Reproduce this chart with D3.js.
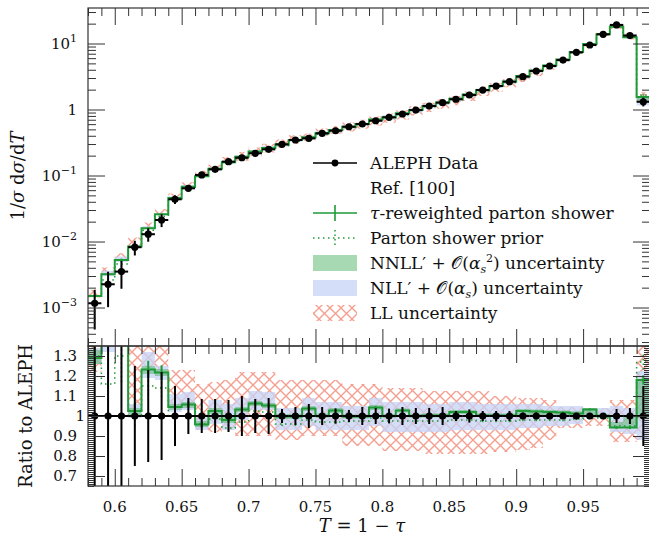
<!DOCTYPE html>
<html lang="en">
<head>
<meta charset="UTF-8">
<title>Thrust distribution compared with ALEPH</title>
<script src="https://d3js.org/d3.v7.min.js"></script>
<style>
  body { margin: 0; background: #fff; }
  svg text { font-family: "DejaVu Serif", serif; fill: #111; }
</style>
</head>
<body>
<div id="chart"></div>
<script>
// bin centres in T = 1 - tau, bins are 0.01 wide
const binCentres = [0.585, 0.595, 0.605, 0.615, 0.625, 0.635, 0.645, 0.655, 0.665, 0.675,
  0.685, 0.695, 0.705, 0.715, 0.725, 0.735, 0.745, 0.755, 0.765, 0.775,
  0.785, 0.795, 0.805, 0.815, 0.825, 0.835, 0.845, 0.855, 0.865, 0.875,
  0.885, 0.895, 0.905, 0.915, 0.925, 0.935, 0.945, 0.955, 0.965, 0.975,
  0.985, 0.995];
const binHalf = 0.005;

// ALEPH data, 1/sigma dsigma/dT, and relative errors
const alephData = [0.00116, 0.00225, 0.0035, 0.0082, 0.0129, 0.0212, 0.0436, 0.064, 0.102, 0.124,
  0.162, 0.186, 0.217, 0.249, 0.297, 0.345, 0.366, 0.436, 0.477, 0.548,
  0.603, 0.676, 0.762, 0.855, 0.98, 1.13, 1.27, 1.43, 1.66, 1.97,
  2.27, 2.64, 3.14, 3.83, 4.56, 5.62, 7.36, 9.5, 13.8, 19.1,
  13.2, 1.31];
const alephErr = [0.6, 0.55, 0.45, 0.25, 0.23, 0.22, 0.15, 0.09, 0.085, 0.085,
  0.08, 0.1, 0.085, 0.09, 0.035, 0.045, 0.06, 0.045, 0.038, 0.03,
  0.045, 0.04, 0.037, 0.045, 0.04, 0.04, 0.045, 0.025, 0.033, 0.025,
  0.025, 0.025, 0.017, 0.017, 0.013, 0.012, 0.012, 0.012, 0.012, 0.035,
  0.04, 0.15];

// tau-reweighted parton shower, ratio to ALEPH
const showerRatio = [1.29, 1.42, 1.5, 1.025, 1.233, 1.217, 1.045, 1.058, 0.958, 1.025,
  0.98, 1.033, 1.063, 1.053, 0.997, 0.997, 1.038, 1.0, 1.028, 0.997,
  0.997, 1.043, 1.0, 1.028, 1.0, 1.003, 1.003, 1.02, 1.02, 1.003,
  1.003, 1.003, 1.025, 1.022, 1.02, 1.017, 1.013, 1.033, 1.0, 0.942,
  0.942, 1.18];
const showerErr = [0.05, 0.05, 0.05, 0.04, 0.035, 0.03, 0.02, 0.015, 0.015, 0.012,
  0.012, 0.01, 0.01, 0.01, 0.008, 0.008, 0.008, 0.007, 0.007, 0.007,
  0.006, 0.006, 0.006, 0.006, 0.005, 0.005, 0.005, 0.005, 0.005, 0.005,
  0.005, 0.005, 0.005, 0.005, 0.005, 0.005, 0.005, 0.005, 0.005, 0.006,
  0.008, 0.02];

// parton shower prior, ratio to ALEPH
const priorRatio = [1.3, 1.16, 1.3, 1.0, 1.15, 1.14, 1.0, 1.0, 0.96, 0.985,
  0.94, 0.97, 1.025, 1.02, 0.96, 0.96, 0.98, 0.97, 0.97, 0.975,
  0.975, 0.99, 0.975, 0.975, 0.975, 0.975, 0.975, 0.98, 0.98, 0.975,
  0.975, 0.975, 0.98, 0.98, 0.98, 0.98, 0.985, 0.99, 0.99, 0.95,
  0.95, 1.27];
const priorErr = [0.06, 0.09, 0.1, 0.05, 0.04, 0.04, 0.03, 0.02, 0.02, 0.015,
  0.015, 0.012, 0.012, 0.012, 0.01, 0.01, 0.01, 0.008, 0.008, 0.008,
  0.007, 0.007, 0.007, 0.007, 0.006, 0.006, 0.006, 0.006, 0.006, 0.006,
  0.006, 0.006, 0.006, 0.006, 0.006, 0.006, 0.006, 0.006, 0.006, 0.008,
  0.01, 0.03];

// uncertainty bands, ratio to ALEPH (low / high edge)
const nnllLo = [1.26, 1.38, 1.46, 1.0, 1.21, 1.2, 1.03, 1.04, 0.945, 1.01,
  0.965, 1.02, 1.05, 1.04, 0.985, 0.985, 1.025, 0.99, 1.015, 0.987,
  0.987, 1.03, 0.99, 1.018, 0.99, 0.993, 0.993, 1.01, 1.01, 0.995,
  0.995, 0.995, 1.005, 1.003, 1.002, 1.0, 0.998, 1.005, 0.99, 0.94,
  0.94, 0.99];
const nnllHi = [1.33, 1.47, 1.55, 1.04, 1.25, 1.235, 1.06, 1.07, 0.975, 1.04,
  0.995, 1.045, 1.075, 1.065, 1.01, 1.01, 1.05, 1.012, 1.04, 1.008,
  1.008, 1.055, 1.01, 1.038, 1.01, 1.013, 1.013, 1.03, 1.03, 1.012,
  1.012, 1.012, 1.035, 1.032, 1.03, 1.027, 1.024, 1.04, 1.01, 0.97,
  1.0, 1.18];
const nllLo = [1.26, 1.32, 1.4, 0.99, 1.19, 1.18, 1.02, 1.03, 0.93, 0.96,
  0.93, 0.98, 1.03, 1.03, 0.93, 0.93, 0.95, 0.93, 0.93, 0.93,
  0.93, 0.95, 0.92, 0.92, 0.92, 0.92, 0.92, 0.93, 0.93, 0.93,
  0.93, 0.93, 0.94, 0.94, 0.95, 0.95, 0.96, 0.99, 0.99, 0.92,
  0.91, 0.88];
const nllHi = [1.34, 1.6, 1.7, 1.06, 1.32, 1.25, 1.11, 1.12, 1.0, 1.08,
  1.06, 1.09, 1.125, 1.12, 1.04, 1.04, 1.09, 1.07, 1.07, 1.05,
  1.05, 1.09, 1.07, 1.07, 1.07, 1.06, 1.06, 1.07, 1.07, 1.06,
  1.06, 1.06, 1.06, 1.06, 1.05, 1.05, 1.05, 1.04, 1.04, 1.05,
  1.04, 1.225];
const llLo = [1.22, 1.4, 1.45, 1.02, 1.24, 1.2, 1.04, 1.04, 0.93, 0.92,
  0.93, 0.9, 0.9, 0.9, 0.88, 0.88, 0.9, 0.9, 0.9, 0.85,
  0.85, 0.85, 0.825, 0.825, 0.825, 0.81, 0.81, 0.81, 0.81, 0.81,
  0.82, 0.82, 0.83, 0.84, 0.88, 0.94, 0.94, 0.95, 0.95, 0.87,
  0.87, 0.88];
const llHi = [1.6, 1.8, 1.9, 1.4, 1.5, 1.45, 1.23, 1.23, 1.16, 1.17,
  1.18, 1.22, 1.22, 1.22, 1.18, 1.18, 1.18, 1.18, 1.18, 1.16,
  1.16, 1.16, 1.14, 1.14, 1.14, 1.125, 1.125, 1.125, 1.125, 1.125,
  1.1, 1.1, 1.09, 1.09, 1.08, 1.045, 1.045, 1.04, 1.04, 1.08,
  1.08, 1.4];

// ticks
const xTicks = [0.6, 0.65, 0.7, 0.75, 0.8, 0.85, 0.9, 0.95];
const xTickLabels = ["0.6", "0.65", "0.7", "0.75", "0.8", "0.85", "0.9", "0.95"];
const logTicks = [1e-3, 1e-2, 1e-1, 1, 10];
const logTickExp = ["−3", "−2", "−1", "", "1"];
const ratioTicks = [0.7, 0.8, 0.9, 1, 1.1, 1.2, 1.3];
const ratioTickLabels = ["0.7", "0.8", "0.9", "1", "1.1", "1.2", "1.3"];

const width = 649, height = 536;
const left = 88, right = 650;
const top1 = 8, bot1 = 346, top2 = 346, bot2 = 486;

const green = "#1f9a37";
const tickColor = "#333";

const svg = d3.select("#chart").append("svg")
  .attr("width", width).attr("height", height);

const defs = svg.append("defs");
const pat = defs.append("pattern").attr("id", "hatch")
  .attr("patternUnits", "userSpaceOnUse").attr("width", 11).attr("height", 11);
pat.append("path").attr("d", "M0,0L11,11M11,0L0,11")
  .attr("stroke", "#f4a090").attr("stroke-width", 1.4).attr("fill", "none");

defs.append("clipPath").attr("id", "clipTop").append("rect")
  .attr("x", left).attr("y", top1).attr("width", right - left).attr("height", bot1 - top1);
defs.append("clipPath").attr("id", "clipRatio").append("rect")
  .attr("x", left).attr("y", top2).attr("width", right - left).attr("height", bot2 - top2);

const x = d3.scaleLinear().domain([0.58, 1.0]).range([left, right]);
const yTop = d3.scaleLog().domain([Math.pow(10, -3.583), Math.pow(10, 1.538)]).range([bot1, top1]);
const yRat = d3.scaleLinear().domain([0.65, 1.35]).range([bot2, top2]);

// helpers to build stepped paths from per-bin values
function bandPoints(lo, hi) {
  return binCentres.flatMap((c, i) => [
    { t: c - binHalf, lo: lo[i], hi: hi[i] },
    { t: c + binHalf, lo: lo[i], hi: hi[i] }
  ]);
}
function stepPoints(vals) {
  return binCentres.flatMap((c, i) => [
    { t: c - binHalf, v: vals[i] },
    { t: c + binHalf, v: vals[i] }
  ]);
}

function drawPanel(g, y, scaleOf) {
  // scaleOf(i, r) turns a ratio for bin i into the panel's value
  const band = (lo, hi) => d3.area()
    .x(d => x(d.t)).y0(d => y(d.lo)).y1(d => y(d.hi))(
      bandPoints(lo.map((r, i) => scaleOf(i, r)), hi.map((r, i) => scaleOf(i, r))));

  g.append("path").attr("d", band(llLo, llHi)).attr("fill", "url(#hatch)");
  g.append("path").attr("d", band(nllLo, nllHi)).attr("fill", "#c6d3f6").attr("opacity", 0.75);
  g.append("path").attr("d", band(nnllLo, nnllHi)).attr("fill", "#4fb466").attr("opacity", 0.5);

  const line = d3.line().x(d => x(d.t)).y(d => y(d.v));

  // parton shower prior (dotted)
  g.append("path").attr("d", line(stepPoints(priorRatio.map((r, i) => scaleOf(i, r)))))
    .attr("fill", "none").attr("stroke", green).attr("stroke-width", 1.5)
    .attr("stroke-dasharray", "1.5,3.5");
  g.selectAll(".priorErr").data(binCentres).join("line")
    .attr("x1", d => x(d)).attr("x2", d => x(d))
    .attr("y1", (d, i) => y(scaleOf(i, priorRatio[i] * (1 - priorErr[i]))))
    .attr("y2", (d, i) => y(scaleOf(i, priorRatio[i] * (1 + priorErr[i]))))
    .attr("stroke", green).attr("stroke-width", 1.5).attr("stroke-dasharray", "1.5,3");

  // tau-reweighted shower
  g.append("path").attr("d", line(stepPoints(showerRatio.map((r, i) => scaleOf(i, r)))))
    .attr("fill", "none").attr("stroke", green).attr("stroke-width", 2);
  g.selectAll(".showerErr").data(binCentres).join("line")
    .attr("x1", d => x(d)).attr("x2", d => x(d))
    .attr("y1", (d, i) => y(scaleOf(i, showerRatio[i] * (1 - showerErr[i]))))
    .attr("y2", (d, i) => y(scaleOf(i, showerRatio[i] * (1 + showerErr[i]))))
    .attr("stroke", green).attr("stroke-width", 2);

  // data
  g.selectAll(".dataX").data(binCentres).join("line")
    .attr("x1", d => x(d - binHalf)).attr("x2", d => x(d + binHalf))
    .attr("y1", (d, i) => y(scaleOf(i, 1))).attr("y2", (d, i) => y(scaleOf(i, 1)))
    .attr("stroke", "#000").attr("stroke-width", 2);
  g.selectAll(".dataY").data(binCentres).join("line")
    .attr("x1", d => x(d)).attr("x2", d => x(d))
    .attr("y1", (d, i) => y(scaleOf(i, 1 - alephErr[i])))
    .attr("y2", (d, i) => y(scaleOf(i, 1 + alephErr[i])))
    .attr("stroke", "#000").attr("stroke-width", 2);
  g.selectAll(".dataPt").data(binCentres).join("circle")
    .attr("cx", d => x(d)).attr("cy", (d, i) => y(scaleOf(i, 1)))
    .attr("r", 3.6).attr("fill", "#000");
}

// ---------- top panel ----------
const gTop = svg.append("g").attr("clip-path", "url(#clipTop)");
drawPanel(gTop, yTop, (i, r) => alephData[i] * r);

// ---------- ratio panel ----------
const gRat = svg.append("g").attr("clip-path", "url(#clipRatio)");
gRat.append("line").attr("x1", left).attr("x2", right)
  .attr("y1", yRat(1)).attr("y2", yRat(1))
  .attr("stroke", "#000").attr("stroke-width", 2);
drawPanel(gRat, yRat, (i, r) => r);

// ---------- axes / ticks ----------
const minorX = d3.range(58, 101).map(v => v / 100).filter(v => !xTicks.some(t => Math.abs(t - v) < 1e-9));
const minorLog = [];
for (let e = -4; e <= 1; e++) for (let m = 2; m <= 9; m++) {
  const v = m * Math.pow(10, e);
  if (v > yTop.domain()[0] && v < yTop.domain()[1]) minorLog.push(v);
}
const minorRatio = d3.range(65, 136).map(v => v / 100).filter(v => !ratioTicks.some(t => Math.abs(t - v) < 1e-9));

function ticks(axis, transform) {
  const g = svg.append("g").attr("transform", transform).call(axis);
  g.select(".domain").remove();
  g.selectAll(".tick line").attr("stroke", tickColor).attr("stroke-width", 1);
  g.selectAll(".tick text").remove();
}

const majLen = 17, minLen = 8;
[[top1, d3.axisTop], [bot1, d3.axisBottom], [top2, d3.axisTop], [bot2, d3.axisBottom]].forEach(([yy, ax]) => {
  ticks(ax(x).tickValues(xTicks).tickSize(-majLen), `translate(0,${yy})`);
  ticks(ax(x).tickValues(minorX).tickSize(-minLen), `translate(0,${yy})`);
});
ticks(d3.axisLeft(yTop).tickValues(logTicks).tickSize(-majLen), `translate(${left},0)`);
ticks(d3.axisLeft(yTop).tickValues(minorLog).tickSize(-minLen), `translate(${left},0)`);
ticks(d3.axisRight(yTop).tickValues(logTicks).tickSize(-majLen), `translate(${right},0)`);
ticks(d3.axisRight(yTop).tickValues(minorLog).tickSize(-minLen), `translate(${right},0)`);
ticks(d3.axisLeft(yRat).tickValues(ratioTicks).tickSize(-majLen), `translate(${left},0)`);
ticks(d3.axisLeft(yRat).tickValues(minorRatio).tickSize(-6), `translate(${left},0)`);
ticks(d3.axisRight(yRat).tickValues(ratioTicks).tickSize(-majLen), `translate(${right},0)`);
ticks(d3.axisRight(yRat).tickValues(minorRatio).tickSize(-6), `translate(${right},0)`);

// frames
svg.append("rect").attr("x", left).attr("y", top1).attr("width", right - left).attr("height", bot1 - top1)
  .attr("fill", "none").attr("stroke", tickColor).attr("stroke-width", 1.2);
svg.append("rect").attr("x", left).attr("y", top2).attr("width", right - left).attr("height", bot2 - top2)
  .attr("fill", "none").attr("stroke", tickColor).attr("stroke-width", 1.2);

// tick labels
svg.append("g").selectAll("text").data(xTicks).join("text")
  .attr("x", d => x(d)).attr("y", 512).attr("text-anchor", "middle")
  .attr("font-size", 15).text((d, i) => xTickLabels[i]);

const logLab = svg.append("g").selectAll("text").data(logTicks).join("text")
  .attr("x", 77).attr("y", d => yTop(d) + 5).attr("text-anchor", "end").attr("font-size", 15);
logLab.each(function (d, i) {
  const t = d3.select(this);
  if (logTickExp[i] === "") { t.text("1"); return; }
  t.append("tspan").text("10");
  t.append("tspan").attr("dy", -7).attr("font-size", 11).text(logTickExp[i]);
});

svg.append("g").selectAll("text").data(ratioTicks).join("text")
  .attr("x", d => d === 1 ? 85 : 77).attr("y", d => yRat(d) + 5).attr("text-anchor", "end")
  .attr("font-size", 15).text((d, i) => ratioTickLabels[i]);

// axis titles
const yt = svg.append("text").attr("transform", "translate(24,176) rotate(-90)")
  .attr("text-anchor", "middle").attr("font-size", 18);
yt.append("tspan").text("1/");
yt.append("tspan").attr("font-style", "italic").text("σ");
yt.append("tspan").text(" d");
yt.append("tspan").attr("font-style", "italic").text("σ");
yt.append("tspan").text("/d");
yt.append("tspan").attr("font-style", "italic").text("T");

svg.append("text").attr("transform", "translate(32,416) rotate(-90)")
  .attr("text-anchor", "middle").attr("font-size", 18).text("Ratio to ALEPH");

const xt = svg.append("text").attr("x", 362).attr("y", 532).attr("text-anchor", "middle").attr("font-size", 18);
xt.append("tspan").attr("font-style", "italic").text("T");
xt.append("tspan").text(" = 1 − ");
xt.append("tspan").attr("font-style", "italic").text("τ");

// ---------- legend ----------
const legX0 = 313, legX1 = 357, legText = 370;
const legRows = [163, 188, 213, 238, 263, 288, 313];
const leg = svg.append("g");
const lc = (legX0 + legX1) / 2;

leg.append("line").attr("x1", legX0).attr("x2", legX1).attr("y1", legRows[0]).attr("y2", legRows[0])
  .attr("stroke", "#000").attr("stroke-width", 1.5);
leg.append("circle").attr("cx", lc).attr("cy", legRows[0]).attr("r", 3.4).attr("fill", "#000");

leg.append("line").attr("x1", legX0).attr("x2", legX1).attr("y1", legRows[2]).attr("y2", legRows[2])
  .attr("stroke", green).attr("stroke-width", 1.6);
leg.append("line").attr("x1", lc).attr("x2", lc).attr("y1", legRows[2] - 8).attr("y2", legRows[2] + 8)
  .attr("stroke", green).attr("stroke-width", 1.6);

leg.append("line").attr("x1", legX0).attr("x2", legX1).attr("y1", legRows[3]).attr("y2", legRows[3])
  .attr("stroke", green).attr("stroke-width", 1.5).attr("stroke-dasharray", "1.5,3.5");
leg.append("line").attr("x1", lc).attr("x2", lc).attr("y1", legRows[3] - 8).attr("y2", legRows[3] + 8)
  .attr("stroke", green).attr("stroke-width", 1.5).attr("stroke-dasharray", "1.5,3");

leg.append("rect").attr("x", legX0).attr("y", legRows[4] - 8).attr("width", legX1 - legX0).attr("height", 16)
  .attr("fill", "#4fb466").attr("opacity", 0.5);
leg.append("rect").attr("x", legX0).attr("y", legRows[5] - 8).attr("width", legX1 - legX0).attr("height", 16)
  .attr("fill", "#c6d3f6").attr("opacity", 0.75);
leg.append("rect").attr("x", legX0).attr("y", legRows[6] - 8).attr("width", legX1 - legX0).attr("height", 16)
  .attr("fill", "url(#hatch)");

function legLabel(row) {
  return leg.append("text").attr("x", legText).attr("y", legRows[row] + 6).attr("font-size", 17);
}
legLabel(0).text("ALEPH Data");
legLabel(1).text("Ref. [100]");
const l2 = legLabel(2);
l2.append("tspan").attr("font-style", "italic").text("τ");
l2.append("tspan").text("-reweighted parton shower");
legLabel(3).text("Parton shower prior");
const l4 = legLabel(4);
l4.append("tspan").text("NNLL′ + ");
l4.append("tspan").text("𝒪(");
l4.append("tspan").attr("font-style", "italic").text("α");
l4.append("tspan").attr("font-style", "italic").attr("font-size", 11).attr("dy", 4).text("s");
l4.append("tspan").attr("font-size", 11).attr("dy", -11).text("2");
l4.append("tspan").attr("dy", 7).text(") uncertainty");
const l5 = legLabel(5);
l5.append("tspan").text("NLL′ + ");
l5.append("tspan").text("𝒪(");
l5.append("tspan").attr("font-style", "italic").text("α");
l5.append("tspan").attr("font-style", "italic").attr("font-size", 11).attr("dy", 4).text("s");
l5.append("tspan").attr("dy", -4).text(") uncertainty");
legLabel(6).text("LL uncertainty");
</script>
</body>
</html>
